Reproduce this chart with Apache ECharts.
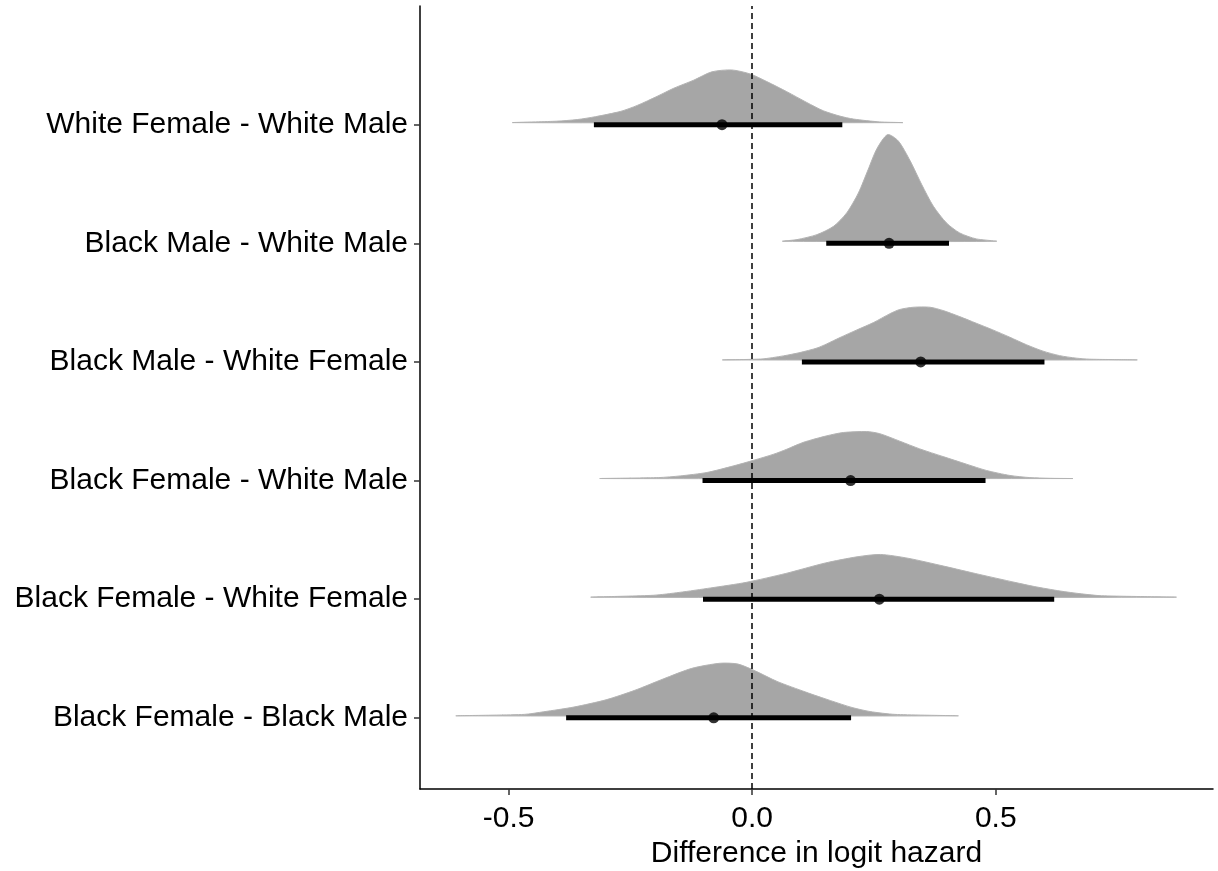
<!DOCTYPE html>
<html>
<head>
<meta charset="utf-8">
<script src="https://cdn.jsdelivr.net/npm/echarts@6/dist/echarts.min.js"></script>
<style>
  html, body { margin: 0; padding: 0; background: #ffffff; }
  #chart { width: 1218px; height: 871px; }
</style>
</head>
<body>
<div id="chart"></div>
<script>
// ---- Data (rows listed bottom to top, y position 1..6) ----
const categories = [
  'Black Female - Black Male',
  'Black Female - White Female',
  'Black Female - White Male',
  'Black Male - White Female',
  'Black Male - White Male',
  'White Female - White Male'
];
const rowPositions = [1, 2, 3, 4, 5, 6];
const pointEstimates = [-0.079, 0.261, 0.202, 0.346, 0.281, -0.062];
const intervalLow   = [-0.382, -0.101, -0.102, 0.102, 0.152, -0.325];
const intervalHigh  = [ 0.203,  0.620,  0.479, 0.600, 0.404,  0.185];
const xTickValues = [-0.5, 0.0, 0.5];

// density outlines: x values and slab heights (in row units)
const densBFBM_x = [-0.605, -0.468, -0.428, -0.366, -0.300, -0.241, -0.183, -0.124, -0.066, -0.029, 0.008, 0.051, 0.110, 0.161, 0.205, 0.242, 0.293, 0.420];
const densBFBM_h = [0, 0.012, 0.034, 0.074, 0.135, 0.215, 0.310, 0.400, 0.443, 0.436, 0.375, 0.290, 0.200, 0.128, 0.070, 0.036, 0.012, 0];

const densBFWF_x = [-0.328, -0.203, -0.150, -0.085, -0.012, 0.069, 0.150, 0.215, 0.263, 0.320, 0.393, 0.466, 0.539, 0.579, 0.632, 0.676, 0.717, 0.867];
const densBFWF_h = [0, 0.016, 0.040, 0.078, 0.125, 0.200, 0.288, 0.340, 0.360, 0.328, 0.262, 0.192, 0.125, 0.090, 0.052, 0.028, 0.012, 0];

const densBFWM_x = [-0.310, -0.192, -0.148, -0.093, -0.038, 0.003, 0.044, 0.071, 0.105, 0.153, 0.187, 0.235, 0.262, 0.303, 0.344, 0.392, 0.440, 0.481, 0.529, 0.570, 0.611, 0.657];
const densBFWM_h = [0, 0.008, 0.022, 0.051, 0.107, 0.154, 0.205, 0.247, 0.305, 0.360, 0.388, 0.396, 0.378, 0.315, 0.250, 0.185, 0.121, 0.068, 0.026, 0.008, 0.002, 0];

const densBMWF_x = [-0.059, 0.020, 0.064, 0.098, 0.133, 0.153, 0.180, 0.215, 0.249, 0.283, 0.303, 0.331, 0.365, 0.392, 0.426, 0.460, 0.494, 0.529, 0.563, 0.597, 0.631, 0.665, 0.693, 0.788];
const densBMWF_h = [0, 0.008, 0.034, 0.062, 0.100, 0.135, 0.188, 0.253, 0.315, 0.390, 0.425, 0.444, 0.444, 0.416, 0.365, 0.309, 0.253, 0.191, 0.128, 0.074, 0.036, 0.015, 0.006, 0];

const densBMWM_x = [0.063, 0.092, 0.133, 0.167, 0.194, 0.218, 0.238, 0.256, 0.278, 0.300, 0.324, 0.348, 0.372, 0.399, 0.426, 0.460, 0.501];
const densBMWM_h = [0, 0.014, 0.056, 0.126, 0.239, 0.407, 0.604, 0.780, 0.899, 0.845, 0.680, 0.478, 0.295, 0.154, 0.070, 0.020, 0];

const densWFWM_x = [-0.490, -0.402, -0.359, -0.322, -0.270, -0.236, -0.195, -0.161, -0.120, -0.083, -0.042, -0.004, 0.030, 0.071, 0.112, 0.146, 0.180, 0.208, 0.262, 0.308];
const densWFWM_h = [0, 0.012, 0.026, 0.050, 0.095, 0.145, 0.222, 0.290, 0.358, 0.428, 0.444, 0.410, 0.346, 0.261, 0.170, 0.100, 0.055, 0.030, 0.006, 0];

// ---- Build ----
const densX = [densBFBM_x, densBFWF_x, densBFWM_x, densBMWF_x, densBMWM_x, densWFWM_x];
const densH = [densBFBM_h, densBFWF_h, densBFWM_h, densBMWF_h, densBMWM_h, densWFWM_h];

const FONT = "'Liberation Sans', Arial, sans-serif";
const chart = echarts.init(document.getElementById('chart'), null, { renderer: 'canvas' });

const option = {
  animation: false,
  backgroundColor: '#ffffff',
  grid: { left: 420, right: 5, top: 6, bottom: 82, containLabel: false, outerBoundsMode: 'none' },
  xAxis: {
    type: 'value',
    min: -0.682,
    max: 0.946,
    name: 'Difference in logit hazard',
    nameLocation: 'middle',
    nameGap: 46,
    nameTextStyle: { fontFamily: FONT, fontSize: 30, color: '#000' },
    axisLine: { show: true, onZero: false, lineStyle: { color: '#000', width: 1.5 } },
    axisTick: { show: true, customValues: xTickValues, length: 6, lineStyle: { color: '#333', width: 1.5 } },
    axisLabel: {
      customValues: xTickValues,
      formatter: v => Number(v).toFixed(1),
      fontFamily: FONT, fontSize: 30, color: '#000', margin: 15
    },
    splitLine: { show: false }
  },
  yAxis: {
    type: 'value',
    min: 0.4,
    max: 7.0,
    axisLine: { show: true, onZero: false, lineStyle: { color: '#000', width: 1.5 } },
    axisTick: { show: true, customValues: rowPositions, length: 6, lineStyle: { color: '#333', width: 1.5 } },
    axisLabel: {
      customValues: rowPositions,
      formatter: v => categories[rowPositions.indexOf(Math.round(v))] || '',
      fontFamily: FONT, fontSize: 30, color: '#000', margin: 12
    },
    splitLine: { show: false }
  },
  series: [
    {
      type: 'custom',
      name: 'slabs',
      z: 1,
      data: rowPositions.map((r, i) => [pointEstimates[i], r]),
      encode: { x: 0, y: 1 },
      renderItem: function (params, api) {
        const i = params.dataIndex;
        const row = rowPositions[i];
        const xs = densX[i], hs = densH[i];
        const pts = xs.map((x, j) => {
          const p = api.coord([x, row + hs[j]]);
          return [p[0], p[1] - 2];
        });
        return {
          type: 'polygon',
          shape: { points: pts, smooth: 0.25 },
          style: { fill: '#A6A6A6', stroke: '#B3B3B3', lineWidth: 1 }
        };
      }
    },
    {
      type: 'line',
      name: 'zero',
      z: 2,
      data: [],
      markLine: {
        silent: true,
        symbol: ['none', 'none'],
        label: { show: false },
        lineStyle: { type: [6, 4], color: '#000', width: 1.5 },
        data: [{ xAxis: 0 }]
      }
    },
    {
      type: 'custom',
      name: 'intervals',
      z: 3,
      data: rowPositions.map((r, i) => [intervalLow[i], intervalHigh[i], r]),
      encode: { x: [0, 1], y: 2 },
      renderItem: function (params, api) {
        const a = api.coord([api.value(0), api.value(2)]);
        const b = api.coord([api.value(1), api.value(2)]);
        return {
          type: 'line',
          shape: { x1: a[0], y1: a[1], x2: b[0], y2: b[1] },
          style: { stroke: '#000', lineWidth: 5 }
        };
      }
    },
    {
      type: 'scatter',
      name: 'points',
      z: 4,
      symbol: 'circle',
      symbolSize: 11,
      itemStyle: { color: '#000' },
      data: rowPositions.map((r, i) => [pointEstimates[i], r])
    }
  ]
};
chart.setOption(option);
</script>
</body>
</html>
